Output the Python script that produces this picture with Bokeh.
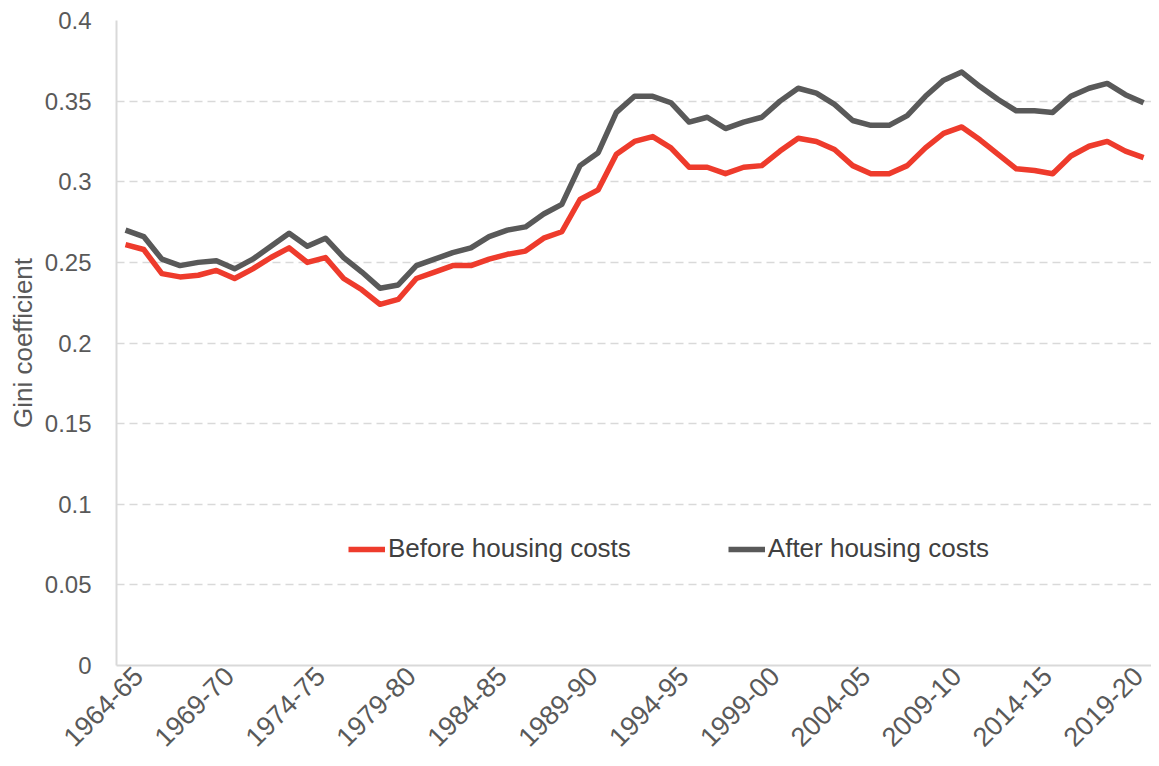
import math
from bokeh.plotting import figure
from bokeh.models import Range1d, FixedTicker, Legend, LegendItem
from bokeh.embed import file_html
from bokeh.resources import INLINE

# ---- data ----
years = list(range(1964, 2021))  # 1964-65 ... 2020-21

before_housing = [
    0.261, 0.258, 0.243, 0.241, 0.242, 0.245, 0.240, 0.246, 0.253, 0.259,
    0.250, 0.253, 0.240, 0.233, 0.224, 0.227, 0.240, 0.244, 0.248, 0.248,
    0.252, 0.255, 0.257, 0.265, 0.269, 0.289, 0.295, 0.317, 0.325, 0.328,
    0.321, 0.309, 0.309, 0.305, 0.309, 0.310, 0.319, 0.327, 0.325, 0.320,
    0.310, 0.305, 0.305, 0.310, 0.321, 0.330, 0.334, 0.326, 0.317, 0.308,
    0.307, 0.305, 0.316, 0.322, 0.325, 0.319, 0.315,
]

after_housing = [
    0.270, 0.266, 0.252, 0.248, 0.250, 0.251, 0.246, 0.252, 0.260, 0.268,
    0.260, 0.265, 0.253, 0.244, 0.234, 0.236, 0.248, 0.252, 0.256, 0.259,
    0.266, 0.270, 0.272, 0.280, 0.286, 0.310, 0.318, 0.343, 0.353, 0.353,
    0.349, 0.337, 0.340, 0.333, 0.337, 0.340, 0.350, 0.358, 0.355, 0.348,
    0.338, 0.335, 0.335, 0.341, 0.353, 0.363, 0.368, 0.359, 0.351, 0.344,
    0.344, 0.343, 0.353, 0.358, 0.361, 0.354, 0.349,
]

x_tick_years = [1964, 1969, 1974, 1979, 1984, 1989, 1994, 1999, 2004, 2009, 2014, 2019]
x_tick_labels = ["1964-65", "1969-70", "1974-75", "1979-80", "1984-85", "1989-90",
                 "1994-95", "1999-00", "2004-05", "2009-10", "2014-15", "2019-20"]

y_ticks = [0, 0.05, 0.1, 0.15, 0.2, 0.25, 0.3, 0.35, 0.4]
y_tick_labels = ["0", "0.05", "0.1", "0.15", "0.2", "0.25", "0.3", "0.35", "0.4"]

series_names = ["Before housing costs", "After housing costs"]

# ---- styling ----
RED = "#EE3B2C"
GREY = "#595959"
TEXT = "#595959"
FONT = "Liberation Sans"

p = figure(width=1151, height=758, output_backend="svg", toolbar_location=None,
           x_range=Range1d(1963.505, 2020.435), y_range=Range1d(0, 0.4),
           min_border_left=116, min_border_right=0, min_border_top=20,
           min_border_bottom=91)
p.outline_line_color = None
p.background_fill_color = "white"

r_before = p.line(years, before_housing, line_color=RED, line_width=5.5,
                  line_join="round")
r_after = p.line(years, after_housing, line_color=GREY, line_width=5.5,
                 line_join="round")

# x axis: shift label anchor so rotated labels end right of the point (as in Excel)
shift = 0.7
p.xaxis.ticker = FixedTicker(ticks=[y + shift for y in x_tick_years])
p.xaxis.major_label_overrides = {y + shift: lab for y, lab in zip(x_tick_years, x_tick_labels)}
p.xaxis.major_label_orientation = math.pi / 4
p.xaxis.major_label_text_font = FONT
p.xaxis.major_label_text_font_size = "27px"
p.xaxis.major_label_text_color = TEXT
p.xaxis.major_label_standoff = 0
p.xaxis.major_tick_line_color = None
p.xaxis.minor_tick_line_color = None
p.xaxis.axis_line_color = "#d9d9d9"
p.xaxis.axis_line_width = 2
p.xgrid.grid_line_color = None

p.yaxis.ticker = FixedTicker(ticks=y_ticks)
p.yaxis.major_label_overrides = {t: lab for t, lab in zip(y_ticks, y_tick_labels)}
p.yaxis.major_label_text_font = FONT
p.yaxis.major_label_text_font_size = "24px"
p.yaxis.major_label_text_color = TEXT
p.yaxis.major_label_standoff = 19
p.yaxis.major_tick_line_color = None
p.yaxis.minor_tick_line_color = None
p.yaxis.axis_line_color = "#d9d9d9"
p.yaxis.axis_line_width = 2
p.yaxis.axis_label = "Gini coefficient"
p.yaxis.axis_label_text_font = FONT
p.yaxis.axis_label_text_font_size = "26px"
p.yaxis.axis_label_text_font_style = "normal"
p.yaxis.axis_label_text_color = TEXT
p.yaxis.axis_label_standoff = 4

p.ygrid.ticker = FixedTicker(ticks=y_ticks[1:])
p.ygrid.grid_line_color = "#d9d9d9"
p.ygrid.grid_line_width = 1.5
p.ygrid.grid_line_dash = "8 5"

legend = Legend(items=[LegendItem(label=series_names[0], renderers=[r_before]),
                       LegendItem(label=series_names[1], renderers=[r_after])],
                orientation="horizontal", location=(232, 101),
                label_text_font=FONT, label_text_font_size="26px",
                label_text_color="#404040", glyph_width=37, glyph_height=20,
                label_standoff=3, spacing=97, padding=0, margin=0,
                border_line_color=None, background_fill_alpha=0)
p.add_layout(legend, "center")

open("out.html", "w").write(file_html(p, INLINE))
